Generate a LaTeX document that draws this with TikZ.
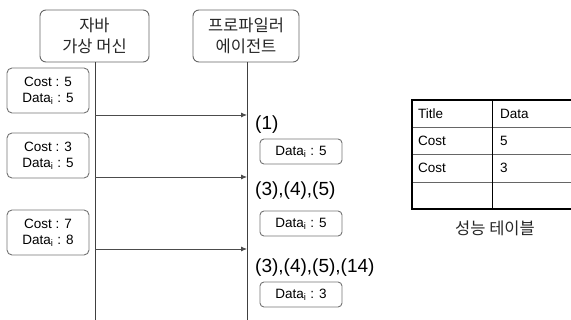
\documentclass[tikz,border=0pt]{standalone}
\usepackage{fontspec}
\setmainfont{Liberation Sans}
\newfontfamily\kr{Noto Sans CJK KR}
\usetikzlibrary{arrows.meta}
\begin{document}
\begin{tikzpicture}[x=1pt,y=-1pt,
  head/.style={draw=black!60,line width=0.9pt,rounded corners=6pt,minimum width=108pt,minimum height=52pt,align=center,inner sep=0pt,font=\kr\fontsize{16.5}{21}\selectfont,text=black!85},
  lbox/.style={draw=black!55,line width=0.9pt,rounded corners=5pt,minimum width=82pt,minimum height=45pt,align=center,inner sep=0pt,font=\fontsize{13.5}{16}\selectfont},
  rbox/.style={draw=black!55,line width=0.9pt,rounded corners=4pt,minimum width=82pt,minimum height=25pt,inner sep=0pt,font=\fontsize{13.5}{16}\selectfont},
  life/.style={draw=black!75,line width=0.8pt},
  msg/.style={draw=black!70,line width=0.8pt,-{Latex[length=6pt,width=5pt]}},
  step label/.style={anchor=west,inner sep=0pt,font=\fontsize{19}{22}\selectfont},
  cell/.style={anchor=west,inner sep=0pt,font=\fontsize{13.5}{16}\selectfont}]
\useasboundingbox (0,0) rectangle (571,320);
% headers
\node[head,minimum width=109pt] (jvm) at (94.5,36) {{\kr 자바}\\{\kr 가상 머신}};
\node[head,minimum width=106pt] (prof) at (246,36) {{\kr 프로파일러}\\{\kr 에이전트}};
\coordinate (jvmEnd) at (95,320);
\coordinate (profEnd) at (247,320);
\draw[life] (jvm.south -| jvmEnd) -- (jvmEnd);
\draw[life] (prof.south -| profEnd) -- (profEnd);
% left boxes
\node[lbox] (c1) at (48,90.5) {Cost : 5\\Data\textsubscript{i} : 5};
\node[lbox] (c2) at (48,155.5) {Cost : 3\\Data\textsubscript{i} : 5};
\node[lbox] (c3) at (48,232.5) {Cost : 7\\Data\textsubscript{i} : 8};
% messages
\coordinate (s1) at (95,115); \coordinate (e1) at (247,115);
\coordinate (s2) at (95,177); \coordinate (e2) at (247,177);
\coordinate (s3) at (95,249); \coordinate (e3) at (247,249);
\draw[msg] (s1) -- (e1);
\draw[msg] (s2) -- (e2);
\draw[msg] (s3) -- (e3);
% labels
\node[step label] (l1) at (255,125) {(1)};
\node[step label] (l2) at (255,191) {(3),(4),(5)};
\node[step label] (l3) at (255,268) {(3),(4),(5),(14)};
% right boxes
\node[rbox] (d1) at (301,151.5) {Data\textsubscript{i} : 5};
\node[rbox] (d2) at (301,223.5) {Data\textsubscript{i} : 5};
\node[rbox] (d3) at (301,294.5) {Data\textsubscript{i} : 3};
% table
\draw[black!60,line width=0.8pt] (412,127) -- (575,127);
\draw[black!60,line width=0.8pt] (412,154) -- (575,154);
\draw[black!60,line width=0.8pt] (412,182) -- (575,182);
\draw[black,line width=0.8pt] (492,100) -- (492,209);
\draw[black,line width=1.8pt] (575,100) -- (412,100) -- (412,209) -- (575,209);
\node[cell] (t11) at (418,114) {Title};
\node[cell] (t12) at (500,114) {Data};
\node[cell] (t21) at (418,141) {Cost};
\node[cell] (t22) at (500,141) {5};
\node[cell] (t31) at (418,168) {Cost};
\node[cell] (t32) at (500,168) {3};
\node[font=\kr\fontsize{16.5}{18}\selectfont,text=black!85] (cap) at (495,228) {성능 테이블};
\end{tikzpicture}
\end{document}
